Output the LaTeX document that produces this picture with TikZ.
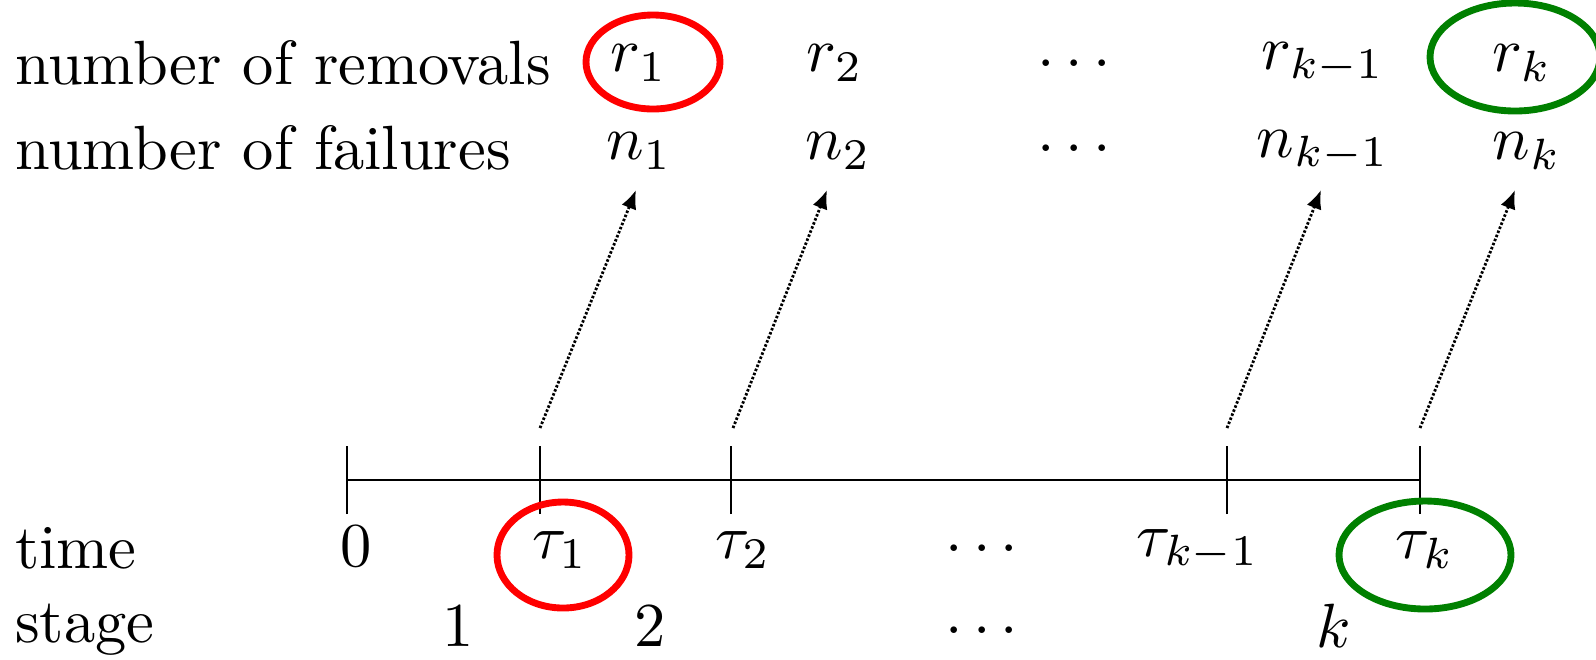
\documentclass[tikz,border=0pt]{standalone}
\usetikzlibrary{arrows.meta}
\begin{document}
\begin{tikzpicture}[x=0.16pt,y=-0.16pt,
  lbl/.style={anchor=west,inner sep=0pt},
  val/.style={inner sep=0pt},
  conn/.style={dash pattern=on 0.4pt off 0.3pt,line width=0.45pt,-{Latex[length=3pt,width=2.5pt]}},
  tickline/.style={line width=0.35pt},
  redring/.style={draw=red,line width=1.1pt},
  greenring/.style={draw=green!50!black,line width=1.1pt}]
\useasboundingbox (0,0) rectangle (1596,659);
% row labels
\node[lbl] (lrem) at (14,63) {number of removals};
\node[lbl] (lfail) at (14,148) {number of failures};
\node[lbl] (ltime) at (14,548) {time};
\node[lbl] (lstage) at (14,630) {stage};
% removals
\node[val] (r1) at (639,63) {$r_1$};
\node[val] (r2) at (835,63) {$r_2$};
\node[val] (rd) at (1074,63) {$\ldots$};
\node[val] (rk1) at (1323,63) {$r_{k-1}$};
\node[val] (rk) at (1522,63) {$r_k$};
% failures
\node[val] (n1) at (639,151) {$n_1$};
\node[val] (n2) at (838,151) {$n_2$};
\node[val] (nd) at (1074,148) {$\ldots$};
\node[val] (nk1) at (1323,151) {$n_{k-1}$};
\node[val] (nk) at (1527,151) {$n_k$};
% timeline
\coordinate (t0) at (347,480);
\coordinate (t1) at (540,480);
\coordinate (t2) at (731,480);
\coordinate (tk1) at (1227,480);
\coordinate (tk) at (1420,480);
\draw[tickline] (t0) -- (tk);
\foreach \t in {t0,t1,t2,tk1,tk}
  \draw[tickline] ([yshift=-34*0.16pt]\t) -- ([yshift=34*0.16pt]\t);
% time labels
\node[val] (z0) at (356,546) {$0$};
\node[val] (tau1) at (560,550) {$\tau_1$};
\node[val] (tau2) at (743,550) {$\tau_2$};
\node[val] (taud) at (982,548) {$\ldots$};
\node[val] (tauk1) at (1198,550) {$\tau_{k-1}$};
\node[val] (tauk) at (1425,550) {$\tau_k$};
% stage labels
\node[val] (s1) at (458,626) {$1$};
\node[val] (s2) at (650,626) {$2$};
\node[val] (sd) at (982,630) {$\ldots$};
\node[val] (sk) at (1334,626) {$k$};
% arrows
\coordinate (a1) at (540,428);
\coordinate (a2) at (733,428);
\coordinate (a3) at (1227,428);
\coordinate (a4) at (1420,428);
\coordinate (b1) at (636,190);
\coordinate (b2) at (827,190);
\coordinate (b3) at (1321,190);
\coordinate (b4) at (1515,190);
\draw[conn] (a1) -- (b1);
\draw[conn] (a2) -- (b2);
\draw[conn] (a3) -- (b3);
\draw[conn] (a4) -- (b4);
% highlight rings
\draw[redring] (653,62) ellipse [x radius=67, y radius=47];
\draw[redring] (563,555) ellipse [x radius=66, y radius=53];
\draw[greenring] (1515,57) ellipse [x radius=85, y radius=54];
\draw[greenring] (1425,555) ellipse [x radius=86, y radius=54];
\end{tikzpicture}
\end{document}
